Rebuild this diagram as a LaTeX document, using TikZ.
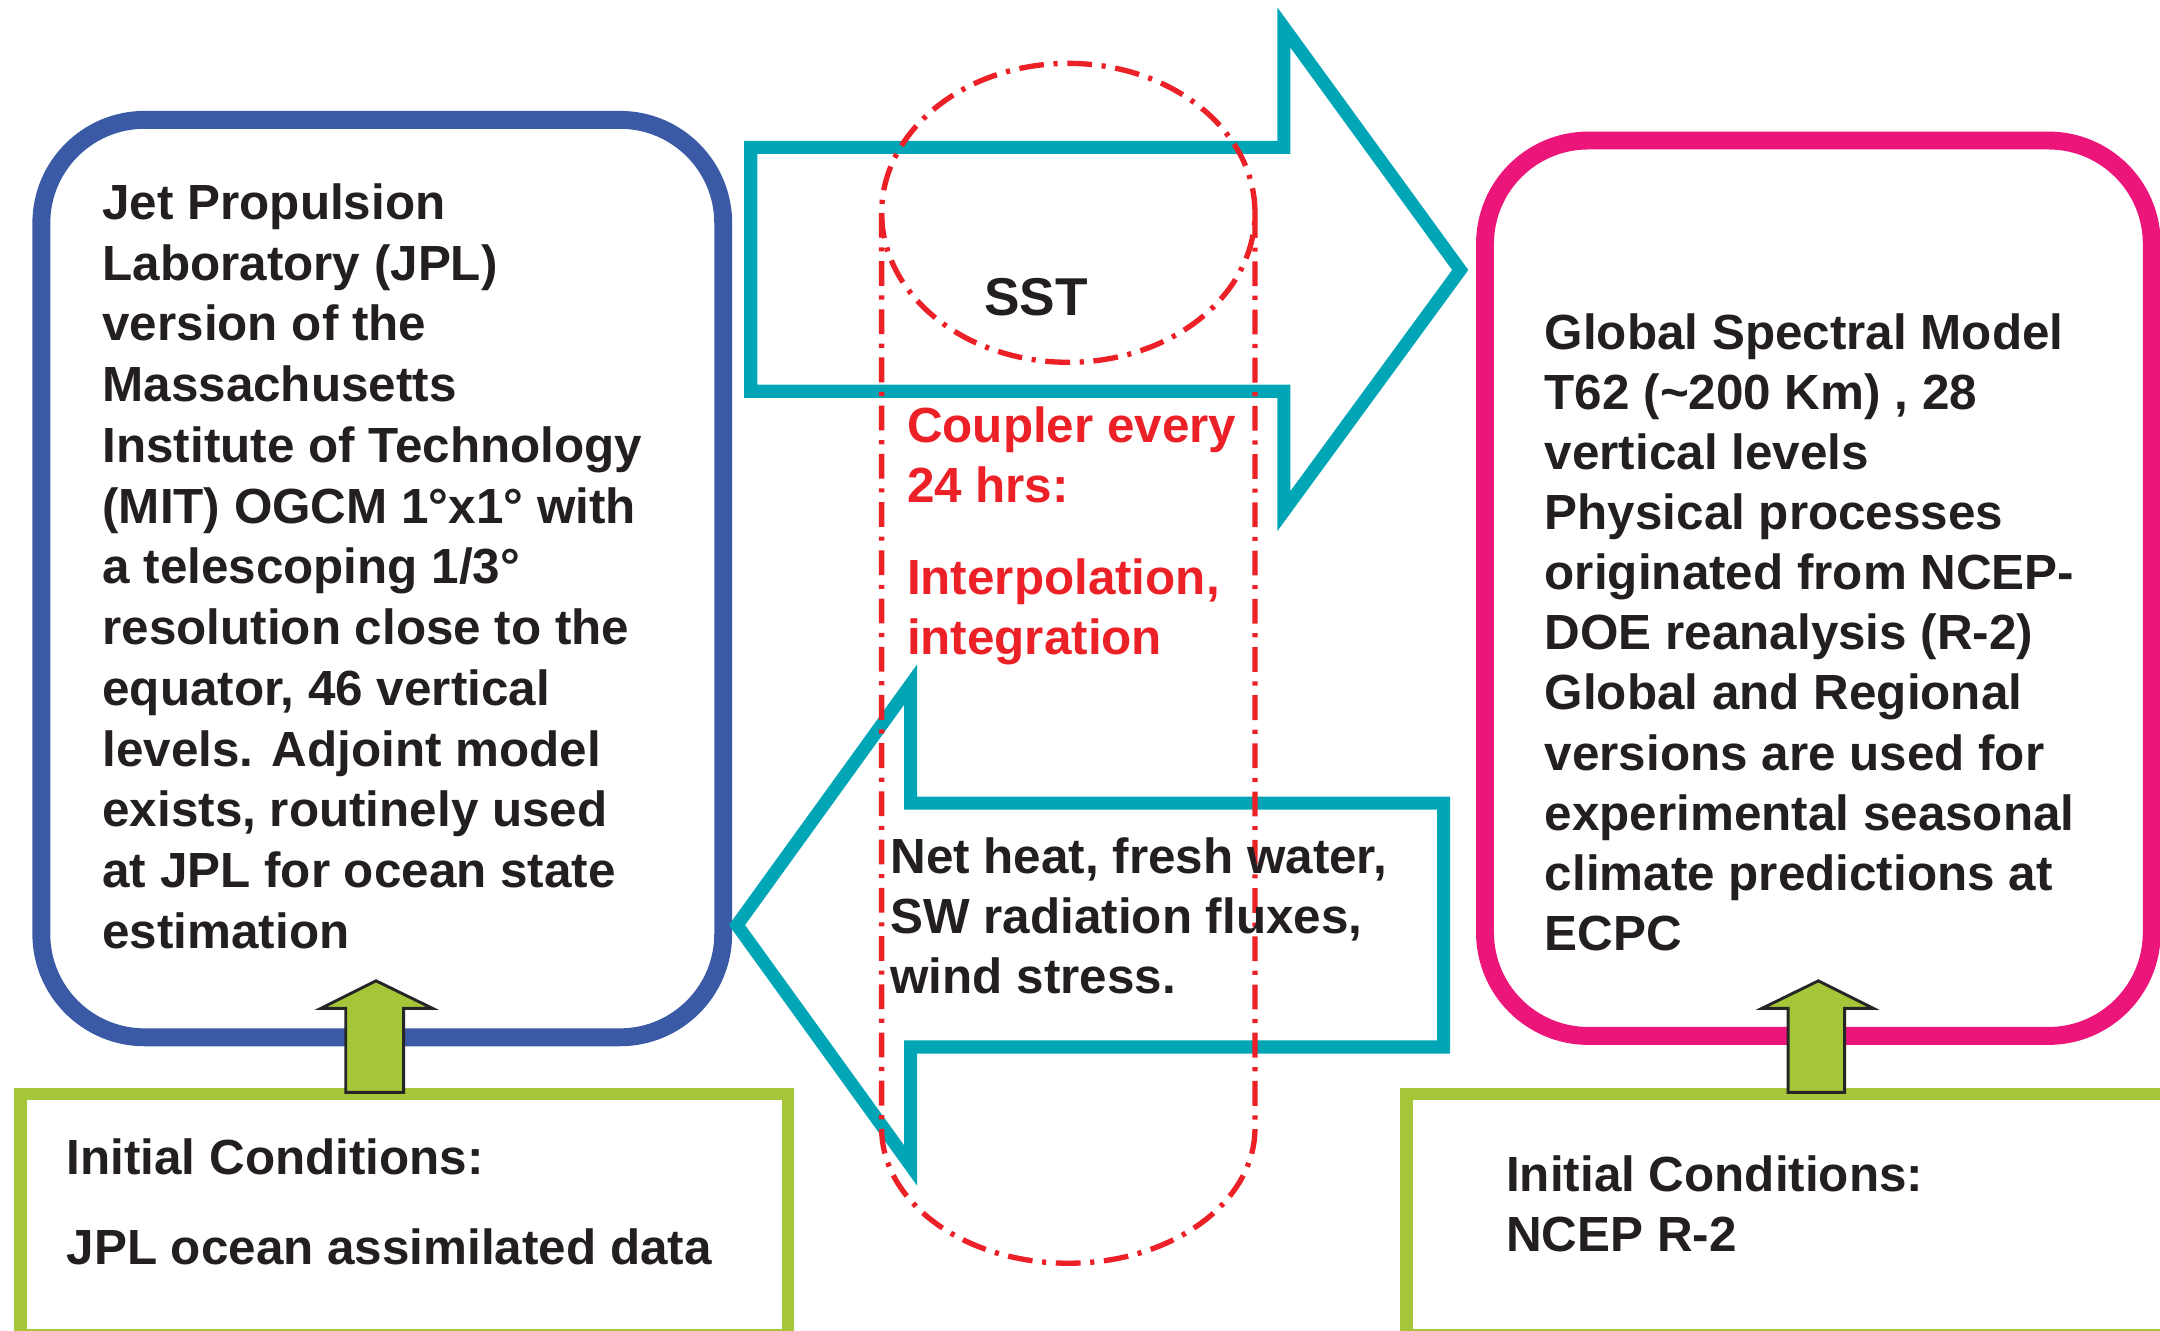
\documentclass[tikz,border=0pt]{standalone}
\usepackage{fontspec}
\setmainfont{Liberation Sans}
\definecolor{ogcmblue}{HTML}{3B5AA6}
\definecolor{gsmpink}{HTML}{EC167A}
\definecolor{fluxcyan}{HTML}{00A6B6}
\definecolor{icgreen}{HTML}{A6C63A}
\definecolor{cplred}{HTML}{EC2027}
\definecolor{ink}{HTML}{231F20}
\begin{document}
\begin{tikzpicture}[>=stealth, thick,
  lbl/.style={font=\fontsize{10.2}{12.4}\selectfont\bfseries, text=ink, align=left, inner sep=0pt},
  model/.style={draw, line width=0.13cm, rounded corners=0.75cm},
  icbox/.style={draw=icgreen, line width=0.09cm},
  blockarrow/.style={draw=fluxcyan, line width=0.095cm, miter limit=20},
  uparrow/.style={fill=icgreen, draw=black!85, line width=0.6pt},
  coupler/.style={draw=cplred, line width=1.1pt, dash pattern=on 0.18cm off 0.07cm on 0.03cm off 0.07cm}]
\useasboundingbox (0,0) rectangle (15.68,9.66);
\clip (0,0) rectangle (15.68,9.66);
\node[model, draw=ogcmblue, minimum width=4.95cm, minimum height=6.66cm] (ogcm) at (2.775,5.46) {};
\node[model, draw=gsmpink, minimum width=4.84cm, minimum height=6.50cm] (gsm) at (13.20,5.39) {};
\node[icbox, minimum width=5.57cm, minimum height=1.75cm] (icocn) at (2.935,0.845) {};
\node[icbox, minimum width=5.79cm, minimum height=1.75cm] (icatm) at (13.105,0.845) {};
\draw[blockarrow] (5.45,8.59) -- (9.32,8.59) -- (9.32,9.46) -- (10.60,7.70) -- (9.32,5.95) -- (9.32,6.82) -- (5.45,6.82) -- cycle;
\draw[blockarrow] (10.48,3.83) -- (6.61,3.83) -- (6.61,4.69) -- (5.35,2.945) -- (6.61,1.20) -- (6.61,2.06) -- (10.48,2.06) -- cycle;
\draw[uparrow] (2.51,1.73) -- (2.51,2.34) -- (2.33,2.34) -- (2.73,2.54) -- (3.14,2.34) -- (2.93,2.34) -- (2.93,1.73) -- cycle;
\draw[uparrow] (12.98,1.73) -- (12.98,2.34) -- (12.79,2.34) -- (13.20,2.54) -- (13.60,2.34) -- (13.39,2.34) -- (13.39,1.73) -- cycle;
\draw[coupler] (7.755,8.115) ellipse [x radius=1.355cm, y radius=1.085cm];
\draw[coupler] (6.40,8.115) -- (6.40,1.47) arc[start angle=180, end angle=360, x radius=1.355cm, y radius=0.98cm] -- (9.11,8.115);
\node[lbl, font=\fontsize{10.2}{12.55}\selectfont\bfseries, anchor=west] (ogcmtxt) at (0.73,5.55) {Jet Propulsion\\Laboratory (JPL)\\version of the\\Massachusetts\\Institute of Technology\\(MIT) OGCM 1°x1° with\\a telescoping 1/3°\\resolution close to the\\equator, 46 vertical\\levels. Adjoint model\\exists, routinely used\\at JPL for ocean state\\estimation};
\node[lbl, anchor=west] (gsmtxt) at (11.20,5.07) {Global Spectral Model\\T62 (\textasciitilde200 Km) , 28\\vertical levels\\Physical processes\\originated from NCEP-\\DOE reanalysis (R-2)\\Global and Regional\\versions are used for\\experimental seasonal\\climate predictions at\\ECPC};
\node[lbl, font=\fontsize{11}{13}\selectfont\bfseries] (sst) at (7.52,7.505) {SST};
\node[lbl, text=cplred, anchor=west] (cpltxt) at (6.57,5.77) {Coupler every\\24 hrs:\\[6.7pt]Interpolation,\\integration};
\node[lbl, anchor=west] (fluxtxt) at (6.45,3.01) {Net heat, fresh water,\\SW radiation fluxes,\\wind stress.};
\node[lbl, anchor=west] (icocntxt) at (0.47,0.935) {Initial Conditions:\\[6.2pt]JPL ocean assimilated data};
\node[lbl, anchor=west] (icatmtxt) at (10.92,0.92) {Initial Conditions:\\NCEP R-2};
\end{tikzpicture}
\end{document}
